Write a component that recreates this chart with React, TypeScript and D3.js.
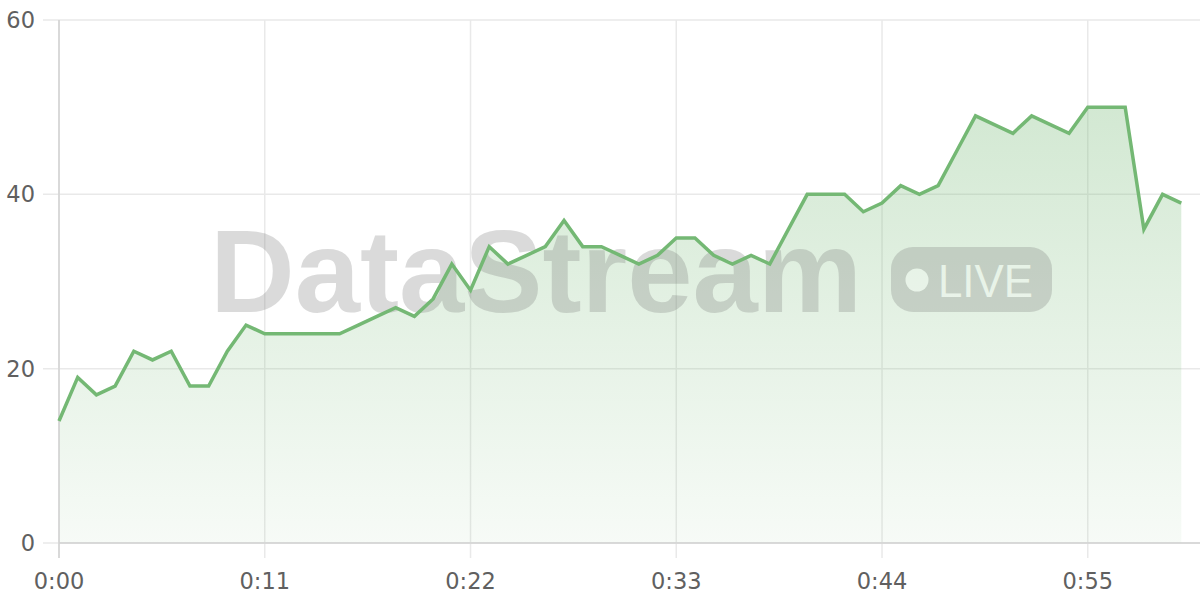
import React from "react";
import * as d3 from "d3";

const seconds: number[] = d3.range(0, 61);
const values: number[] = [
  14, 19, 17, 18, 22, 21, 22, 18, 18, 22,
  25, 24, 24, 24, 24, 24, 25, 26, 27, 26,
  28, 32, 29, 34, 32, 33, 34, 37, 34, 34,
  33, 32, 33, 35, 35, 33, 32, 33, 32, 36,
  40, 40, 40, 38, 39, 41, 40, 41, 45, 49,
  48, 47, 49, 48, 47, 50, 50, 50, 36, 40,
  39,
];
const xTicks: number[] = [0, 11, 22, 33, 44, 55];
const yTicks: number[] = [0, 20, 40, 60];

const W = 1200;
const H = 600;
const LEFT = 59;
const RIGHT = 1200;
const TOP = 20;
const BOTTOM = 543;

const fmt = (s: number) => `${Math.floor(s / 60)}:${String(s % 60).padStart(2, "0")}`;

export default function App() {
  const x = d3.scaleLinear().domain([0, 61]).range([LEFT, RIGHT]);
  const y = d3.scaleLinear().domain([0, 60]).range([BOTTOM, TOP]);
  const data = seconds.map((s, i) => ({ s, v: values[i] }));
  const line = d3.line<{ s: number; v: number }>().x((d) => x(d.s)).y((d) => y(d.v));
  const area = d3
    .area<{ s: number; v: number }>()
    .x((d) => x(d.s))
    .y0(y(0))
    .y1((d) => y(d.v));
  const green = "#74b874";
  const font = "'DejaVu Sans', sans-serif";

  return (
    <svg
      width={W}
      height={H}
      style={{ position: "absolute", left: 0, top: 0, background: "#fff" }}
    >
      <defs>
        <linearGradient id="fillGrad" x1="0" y1={y(50)} x2="0" y2={y(0)} gradientUnits="userSpaceOnUse">
          <stop offset="0" stopColor={green} stopOpacity={0.32} />
          <stop offset="1" stopColor={green} stopOpacity={0.06} />
        </linearGradient>
      </defs>
      {yTicks.map((t) => (
        <g key={"y" + t}>
          <line x1={43} x2={RIGHT} y1={y(t)} y2={y(t)} stroke="#e9e9e9" strokeWidth={1.5} />
          <text
            x={35}
            y={y(t)}
            dy="0.36em"
            textAnchor="end"
            fontFamily={font}
            fontSize={22.5}
            fill="#606060"
          >
            {t}
          </text>
        </g>
      ))}
      {xTicks.map((t) => (
        <g key={"x" + t}>
          <line x1={x(t)} x2={x(t)} y1={TOP} y2={558} stroke="#e9e9e9" strokeWidth={1.5} />
          <text
            x={x(t)}
            y={589}
            textAnchor="middle"
            fontFamily={font}
            fontSize={22.5}
            fill="#606060"
          >
            {fmt(t)}
          </text>
        </g>
      ))}
      <path d={area(data) || ""} fill="url(#fillGrad)" />
      <g opacity={0.25}>
        <text
          x={210}
          y={312}
          fontFamily="'Liberation Sans', Arial, sans-serif"
          fontWeight="bold"
          fontSize={116}
          fill="#707070"
          textLength={652}
          lengthAdjust="spacingAndGlyphs"
        >
          DataStream
        </text>
        <rect x={891} y={247} width={161} height={65} rx={22} fill="#707070" />
        <circle cx={917} cy={280} r={11.5} fill="#ffffff" />
        <text
          x={938}
          y={296.5}
          fontFamily="'Liberation Sans', Arial, sans-serif"
          fontSize={46}
          fill="#ffffff"
          textLength={95}
          lengthAdjust="spacingAndGlyphs"
        >
          LIVE
        </text>
      </g>
      <line x1={LEFT} x2={LEFT} y1={TOP} y2={558} stroke="#d2d2d2" strokeWidth={1.5} />
      <line x1={LEFT} x2={RIGHT} y1={BOTTOM} y2={BOTTOM} stroke="#d2d2d2" strokeWidth={1.5} />
      <path d={line(data) || ""} fill="none" stroke={green} strokeWidth={3.5} strokeLinejoin="miter" />
    </svg>
  );
}
